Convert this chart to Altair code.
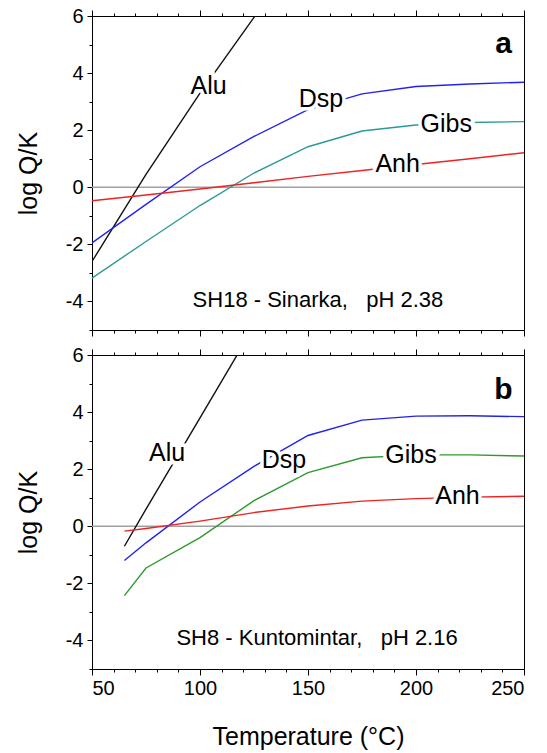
import altair as alt
import pandas as pd

# ---------------- data ----------------
SERIES = ["Alu", "Dsp", "Gibs", "Anh"]

# panel a : SH18 - Sinarka
T_A = [50, 75, 100, 125, 150, 175, 200, 225, 250]
ALU_A_T = [50, 75, 100, 125, 150]
ALU_A = [-2.6, 0.45, 3.3, 5.95, 8.5]
DSP_A = [-1.95, -0.6, 0.72, 1.78, 2.72, 3.27, 3.53, 3.62, 3.68]
GIBS_A = [-3.18, -1.9, -0.64, 0.5, 1.42, 1.97, 2.18, 2.27, 2.3]
ANH_A = [-0.47, -0.27, -0.06, 0.16, 0.38, 0.59, 0.8, 1.0, 1.21]

# panel b : SH8 - Kuntomintar
T_B = [65, 75, 100, 125, 150, 175, 200, 225, 250]
ALU_B_T = [65, 75, 100, 125]
ALU_B = [-0.7, 0.6, 3.8, 7.0]
DSP_B = [-1.2, -0.58, 0.85, 2.1, 3.18, 3.72, 3.86, 3.87, 3.84]
GIBS_B = [-2.43, -1.46, -0.4, 0.9, 1.88, 2.4, 2.5, 2.5, 2.46]
ANH_B = [-0.17, -0.08, 0.18, 0.48, 0.71, 0.88, 0.97, 1.02, 1.05]

# curve labels
LABEL_X_A = [104, 156, 214, 191.5]
LABEL_Y_A = [3.56, 3.09, 2.21, 0.8]
LABEL_X_B = [84.8, 138.9, 197.7, 219.2]
LABEL_Y_B = [2.57, 2.32, 2.49, 1.06]

NB3 = "\u00a0\u00a0\u00a0"
CAPTION_A = "SH18 - Sinarka," + NB3 + "pH 2.38"
CAPTION_B = "SH8 - Kuntomintar," + NB3 + "pH 2.16"
CAPTION_XY_A = [154.6, -3.96]
CAPTION_XY_B = [154.2, -3.9]
LETTER_A, LETTER_B = "a", "b"
LETTER_XY_A = [240.5, 5.03]
LETTER_XY_B = [240.5, 4.77]

X_MAJOR = [50, 100, 150, 200, 250]
X_MINOR = [60, 70, 80, 90, 110, 120, 130, 140, 160, 170, 180, 190, 210, 220, 230, 240]
Y_MAJOR = [-4, -2, 0, 2, 4, 6]
Y_MINOR = [-5, -3, -1, 1, 3, 5]

COLORS_A = ["#111111", "#2222ee", "#2a9a98", "#ee2222"]
COLORS_B = ["#111111", "#2222ee", "#2e9a2e", "#ee2222"]

FONT = "Liberation Sans"


def long_df(alu_t, alu, t, dsp, gibs, anh):
    rows = []
    for x, v in zip(alu_t, alu):
        rows.append({"T": x, "v": v, "s": "Alu"})
    for name, vals in (("Dsp", dsp), ("Gibs", gibs), ("Anh", anh)):
        for x, v in zip(t, vals):
            rows.append({"T": x, "v": v, "s": name})
    return pd.DataFrame(rows)


def panel(df, lx, ly, colors, caption, cap_xy, letter, let_xy, bottom_labels):
    xs = alt.Scale(domain=[50, 250], nice=False, zero=False)
    ys = alt.Scale(domain=[-5, 6], nice=False, zero=False)
    base = alt.Chart(df)

    if bottom_labels:
        x_major = alt.Axis(orient="bottom", values=X_MAJOR, tickSize=6, labels=True,
                           labelPadding=3, titlePadding=26, labelExpr="'' + datum.value")
        x_title = "Temperature (\u00b0C)"
    else:
        x_major = alt.Axis(orient="bottom", values=X_MAJOR, tickSize=6, labels=False)
        x_title = None

    y_major = alt.Axis(orient="left", values=Y_MAJOR, tickSize=5, labelPadding=4,
                       titlePadding=24, labelExpr="'' + datum.value")

    zero = alt.Chart(pd.DataFrame({"z": [0]})).mark_rule(
        color="#a0a0a0", strokeWidth=1.5
    ).encode(y=alt.Y("z:Q", scale=ys, axis=None))

    lines = base.mark_line(clip=True, strokeWidth=1.4).encode(
        x=alt.X("T:Q", scale=xs, axis=x_major, title=x_title),
        y=alt.Y("v:Q", scale=ys, axis=y_major, title="log Q/K"),
        color=alt.Color("s:N", scale=alt.Scale(domain=SERIES, range=colors), legend=None),
        order=alt.Order("T:Q"),
    )

    minor = base.mark_point(opacity=0, clip=True).encode(
        x=alt.X("T:Q", scale=xs, title=None,
                axis=alt.Axis(orient="bottom", values=X_MINOR, tickSize=3, labels=False, domain=False)),
        y=alt.Y("v:Q", scale=ys, title=None,
                axis=alt.Axis(orient="left", values=Y_MINOR, tickSize=3, labels=False, domain=False)),
    )
    top_major = base.mark_point(opacity=0, clip=True).encode(
        x=alt.X("T:Q", scale=xs, title=None,
                axis=alt.Axis(orient="top", values=X_MAJOR, tickSize=6, labels=False)),
        y=alt.Y("v:Q", scale=ys, axis=None),
    )
    top_minor = base.mark_point(opacity=0, clip=True).encode(
        x=alt.X("T:Q", scale=xs, title=None,
                axis=alt.Axis(orient="top", values=X_MINOR, tickSize=3, labels=False, domain=False)),
        y=alt.Y("v:Q", scale=ys, axis=None),
    )

    lab = pd.DataFrame({"x": lx, "y": ly, "t": SERIES})
    halo = alt.Chart(lab).mark_text(
        font=FONT, fontSize=25, color="white", stroke="white", strokeWidth=7,
        align="center", baseline="middle"
    ).encode(x=alt.X("x:Q", scale=xs, axis=None), y=alt.Y("y:Q", scale=ys, axis=None), text="t:N")
    labels = alt.Chart(lab).mark_text(
        font=FONT, fontSize=25, color="black", align="center", baseline="middle"
    ).encode(x=alt.X("x:Q", scale=xs, axis=None), y=alt.Y("y:Q", scale=ys, axis=None), text="t:N")

    cap = alt.Chart(pd.DataFrame({"x": [cap_xy[0]], "y": [cap_xy[1]], "t": [caption]})).mark_text(
        font=FONT, fontSize=22, color="black", align="center", baseline="middle"
    ).encode(x=alt.X("x:Q", scale=xs, axis=None), y=alt.Y("y:Q", scale=ys, axis=None), text="t:N")

    let = alt.Chart(pd.DataFrame({"x": [let_xy[0]], "y": [let_xy[1]], "t": [letter]})).mark_text(
        font=FONT, fontSize=30, fontWeight="bold", color="black", align="center", baseline="middle"
    ).encode(x=alt.X("x:Q", scale=xs, axis=None), y=alt.Y("y:Q", scale=ys, axis=None), text="t:N")

    return alt.layer(zero, lines, minor, top_major, top_minor, halo, labels, cap, let).resolve_axis(
        x="independent", y="independent"
    ).properties(width=432, height=314)


df_a = long_df(ALU_A_T, ALU_A, T_A, DSP_A, GIBS_A, ANH_A)
df_b = long_df(ALU_B_T, ALU_B, T_B, DSP_B, GIBS_B, ANH_B)

pa = panel(df_a, LABEL_X_A, LABEL_Y_A, COLORS_A, CAPTION_A, CAPTION_XY_A, LETTER_A, LETTER_XY_A, False)
pb = panel(df_b, LABEL_X_B, LABEL_Y_B, COLORS_B, CAPTION_B, CAPTION_XY_B, LETTER_B, LETTER_XY_B, True)

chart = alt.vconcat(pa, pb, spacing=25, bounds="flush").resolve_scale(
    color="independent"
).properties(
    padding={"left": 15, "top": 5, "right": 4, "bottom": 3}
).configure_view(
    stroke="black", strokeWidth=1
).configure_axis(
    grid=False, domainColor="black", tickColor="black", domainWidth=1, tickWidth=1,
    labelFont=FONT, labelFontSize=20, labelColor="black",
    titleFont=FONT, titleFontSize=25, titleFontWeight="normal", titleColor="black",
)

chart.save("out.html", embed_options={"renderer": "svg", "actions": False})
